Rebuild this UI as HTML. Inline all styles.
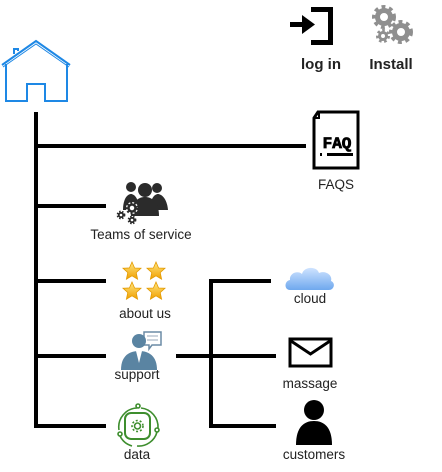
<!DOCTYPE html>
<html><head><meta charset="utf-8"><style>
html,body{margin:0;padding:0;background:#fff;width:442px;height:472px;overflow:hidden}
svg{display:block}
text{font-family:"Liberation Sans",Arial,sans-serif;font-size:13.5px;fill:#222}
</style></head><body>
<svg width="442" height="472" viewBox="0 0 442 472">
<defs>
<linearGradient id="star" x1="0" y1="0" x2="0" y2="1"><stop offset="0" stop-color="#ffe680"/><stop offset="1" stop-color="#f0a000"/></linearGradient>
<linearGradient id="cl" x1="0" y1="0" x2="0" y2="1"><stop offset="0" stop-color="#cfe3ff"/><stop offset="1" stop-color="#6fa8ee"/></linearGradient>
<g id="st"><polygon points="0,-9 2.6,-3 9,-2.8 4.2,1.6 5.6,8.2 0,4.8 -5.6,8.2 -4.2,1.6 -9,-2.8 -2.6,-3" fill="url(#star)" stroke="#e39a00" stroke-width="0.8"/></g>
</defs>
<g stroke="#000" stroke-width="4" fill="none">
<line x1="36" y1="112" x2="36" y2="428"/>
<line x1="36" y1="146" x2="306" y2="146"/>
<line x1="36" y1="206" x2="106" y2="206"/>
<line x1="36" y1="281" x2="106" y2="281"/>
<line x1="36" y1="356" x2="106" y2="356"/>
<line x1="36" y1="426" x2="106" y2="426"/>
<line x1="211" y1="279" x2="211" y2="428"/>
<line x1="211" y1="281" x2="271" y2="281"/>
<line x1="176" y1="356" x2="276" y2="356"/>
<line x1="211" y1="426" x2="276" y2="426"/>
</g>
<g fill="none" stroke="#1e88e5" stroke-width="2">
<polyline points="2,65 36,41 70,65"/>
<polyline points="3,67 36,44 69,67" stroke-width="1"/>
<polyline points="14,54 14,49 18,49 18,51"/>
<polyline points="6,64 6,101 27,101 27,84 45,84 45,101 67,101 67,64"/>
</g>
<g fill="#000"><path d="M311,7h22v38h-22v-5h17v-28h-17z"/><rect x="290" y="22" width="14" height="5"/><polygon points="302,15 315,24.5 302,34"/></g>
<text x="321" y="69" text-anchor="middle" font-weight="bold" style="font-size:15px">log in</text>
<g fill="none" stroke="#8f8f8f">
<circle cx="384" cy="17" r="6.5" stroke-width="5"/><circle cx="384" cy="17" r="10" stroke-width="4" stroke-dasharray="3.8 3.6"/>
<circle cx="401" cy="32" r="6.5" stroke-width="5"/><circle cx="401" cy="32" r="10" stroke-width="4" stroke-dasharray="3.8 3.6"/>
<circle cx="383" cy="36" r="3.5" stroke-width="3"/><circle cx="383" cy="36" r="5.5" stroke-width="3" stroke-dasharray="2.5 2.5"/>
</g>
<text x="391" y="69" text-anchor="middle" font-weight="bold" style="font-size:15px">Install</text>
<path d="M318,112h40v56h-44v-50z" fill="#fff" stroke="#000" stroke-width="3"/>
<path d="M314,118h5v-5" fill="none" stroke="#000" stroke-width="2"/>
<text x="337" y="148" text-anchor="middle" font-weight="bold" style="font-size:16px;fill:#000;font-family:'Liberation Mono',monospace" stroke="#000" stroke-width="0.8">FAQ</text>
<rect x="320" y="153" width="2" height="3" fill="#000"/><rect x="327" y="153" width="26" height="3" fill="#000"/>
<text x="336" y="189" text-anchor="middle">FAQS</text>
<g fill="#2b2b2b">
<circle cx="131" cy="187" r="5"/><circle cx="157" cy="188" r="5"/><circle cx="145" cy="190" r="7"/>
<path d="M123,210c0-12 5-16 8-16s8 4 8 16z"/><path d="M150,210c0-12 5-16 8-16s9 4 10 16z"/>
<path d="M131,216c0-14 7-19 14-19s14 5 14 19z"/>
</g>
<g fill="none">
<circle cx="132" cy="208" r="6" fill="#fff"/>
<circle cx="132" cy="208" r="3.5" stroke-width="2.5" stroke="#2b2b2b"/><circle cx="132" cy="208" r="5.5" stroke-width="2" stroke="#2b2b2b" stroke-dasharray="2 2"/>
<circle cx="121" cy="215" r="2.2" stroke-width="1.8" stroke="#2b2b2b"/><circle cx="121" cy="215" r="3.6" stroke-width="1.6" stroke="#2b2b2b" stroke-dasharray="1.5 1.5"/>
<circle cx="132" cy="220" r="2.2" stroke-width="1.8" stroke="#2b2b2b"/><circle cx="132" cy="220" r="3.6" stroke-width="1.6" stroke="#2b2b2b" stroke-dasharray="1.5 1.5"/>
</g>
<text x="141" y="239" text-anchor="middle">Teams of service</text>
<use href="#st" x="132" y="271"/><use href="#st" x="156" y="271"/>
<use href="#st" x="132" y="291"/><use href="#st" x="156" y="291"/>
<text x="145" y="318" text-anchor="middle">about us</text>
<path d="M144,332h17v13h-9l-3,4v-4h-5z" fill="#fff" stroke="#6b8ba5" stroke-width="1.5"/>
<line x1="147" y1="336" x2="158" y2="336" stroke="#9ab"/><line x1="147" y1="340" x2="158" y2="340" stroke="#9ab"/>
<circle cx="139" cy="341" r="7" fill="#5a84a2"/>
<path d="M121,370c0-14 8-19 18-19s18 5 18 19z" fill="#5a84a2"/>
<path d="M136,351l3,12l3,-12z" fill="#fff"/>
<text x="137" y="379" text-anchor="middle">support</text>
<g fill="none" stroke="#3e8e2e" stroke-width="1.6">
<path d="M119,430a19,19 0 0 1 18,-22"/><path d="M141,408a19,19 0 0 1 17,20"/>
<path d="M157,432a19,19 0 0 1 -20,14"/><path d="M132,446a19,19 0 0 1 -12,-10"/>
<rect x="125" y="413" width="25" height="26" rx="6" stroke-width="2"/>
<circle cx="137.5" cy="426" r="3"/><circle cx="137.5" cy="426" r="5.5" stroke-dasharray="2 2"/>
<circle cx="138" cy="406" r="2"/><circle cx="120" cy="434" r="2"/><circle cx="157" cy="430" r="2"/>
</g>
<text x="137" y="459" text-anchor="middle">data</text>
<path d="M290,290c-6,0-6,-9 0,-10c-1,-7 8,-10 12,-6c2,-8 15,-8 17,-1c6,-3 14,2 12,8c5,2 3,9 -2,9z" fill="url(#cl)"/>
<text x="310" y="303" text-anchor="middle">cloud</text>
<rect x="290" y="339" width="41" height="27" fill="#fff" stroke="#000" stroke-width="3"/>
<polyline points="291,341 310.5,354 330,341" fill="none" stroke="#000" stroke-width="3"/>
<text x="310" y="388" text-anchor="middle">massage</text>
<circle cx="314" cy="410" r="10" fill="#000"/>
<path d="M296,445c0-18 8-24 18-24s18 6 18 24z" fill="#000"/>
<text x="314" y="459" text-anchor="middle">customers</text>
</svg>
</body></html>
